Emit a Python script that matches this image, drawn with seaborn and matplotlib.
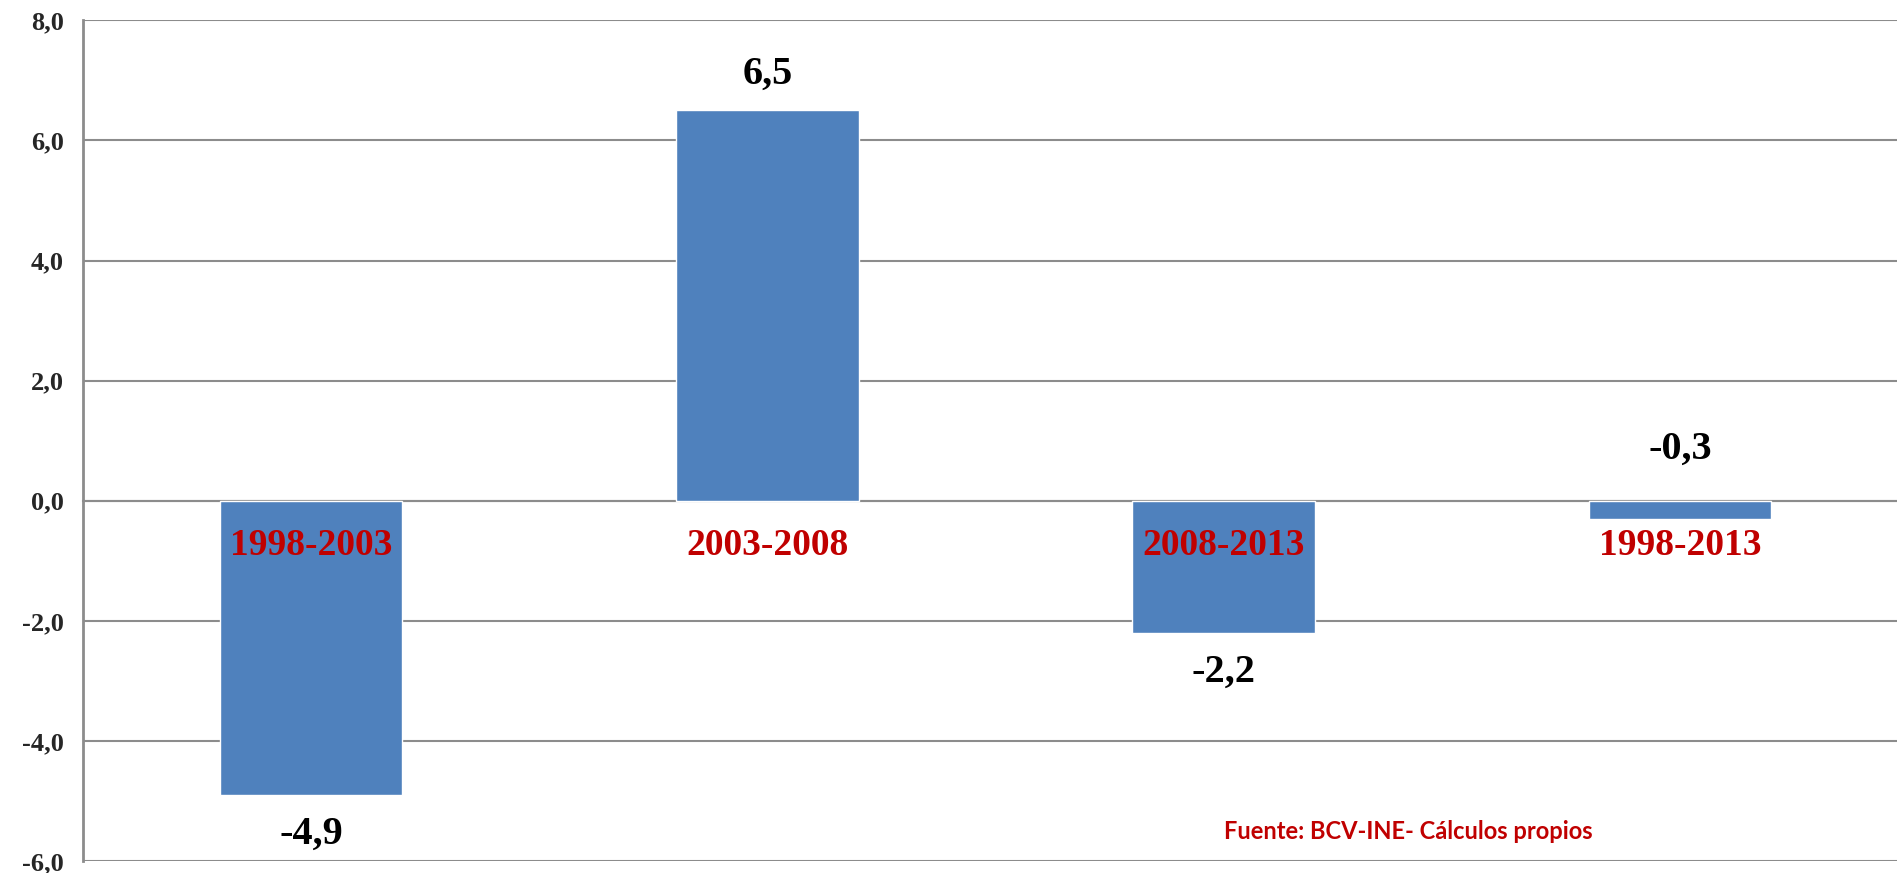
import matplotlib
matplotlib.use('Agg')
import matplotlib.pyplot as plt
import seaborn as sns
import pandas as pd

periods = ['1998-2003', '2003-2008', '2008-2013', '1998-2013']
values = [-4.9, 6.5, -2.2, -0.3]
yticks = [-6, -4, -2, 0, 2, 4, 6, 8]
source = 'Fuente: BCV-INE- Cálculos propios'

BLUE = '#4F81BD'
RED = '#C00000'
GRID = '#8C8C8C'
SERIF = ['Liberation Serif', 'DejaVu Serif']

data = pd.DataFrame({'Periodo': periods, 'Valor': values})

sns.set_style('white')
fig = plt.figure(figsize=(18.97, 8.73), dpi=100)
ax = fig.add_axes([0.0438, 0.0137, 0.962, 0.963])

sns.barplot(data=data, x='Periodo', y='Valor', color=BLUE, width=0.4,
            saturation=1, ax=ax, zorder=3)

ax.set_xlim(-0.5, 3.5)
ax.set_ylim(-6, 8)
ax.set_yticks(yticks)
ax.set_yticklabels(['{:.1f}'.format(t).replace('.', ',') for t in yticks],
                   family=SERIF, fontweight='bold', fontsize=19)
ax.yaxis.grid(True, color=GRID, linewidth=1.5, zorder=0)
ax.tick_params(axis='y', length=6, width=1.2, color=GRID, pad=8)

# horizontal axis sits on zero
ax.spines['bottom'].set_position(('data', 0))
ax.spines['bottom'].set_color(GRID)
ax.spines['bottom'].set_linewidth(1.5)
ax.spines['left'].set_color(GRID)
ax.spines['left'].set_linewidth(2)
ax.spines['top'].set_visible(False)
ax.spines['right'].set_visible(False)

ax.set_xticks([0.5, 1.5, 2.5], minor=True)
ax.tick_params(axis='x', which='minor', length=8, width=1.2, color=GRID)
ax.tick_params(axis='x', which='major', length=0)
ax.set_xticklabels([])
ax.set_xlabel('')
ax.set_ylabel('')

# period names drawn over the bars, just under the zero line
for i, p in enumerate(periods):
    ax.text(i, -0.75, p, ha='center', va='center', family=SERIF,
            fontweight='bold', fontsize=27, color=RED, zorder=5)

for i, v in enumerate(values):
    if v > 0:
        y = v + 0.6
    elif v > -1:
        y = 0.85
    else:
        y = v - 0.65
    ax.text(i, y, '{:.1f}'.format(v).replace('.', ','), ha='center',
            va='center', family=SERIF, fontweight='bold', fontsize=29,
            color='black', zorder=5)

ax.text(0.625, 0.035, source, transform=ax.transAxes, ha='left', va='center',
        family=['Lato', 'DejaVu Sans'], fontweight='bold', fontsize=17,
        color=RED)

fig.savefig('out.png', dpi=100)
